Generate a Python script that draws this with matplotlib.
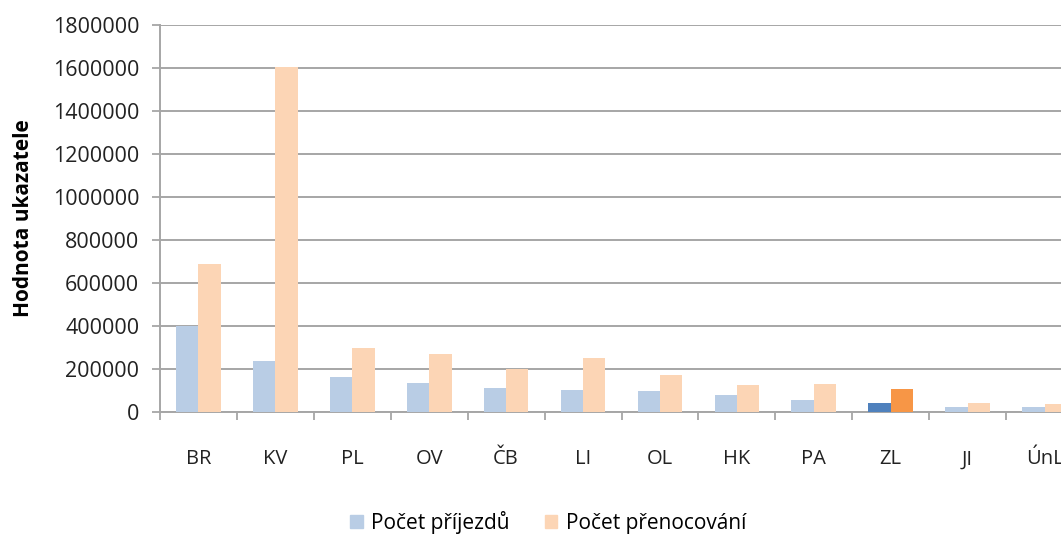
import matplotlib.pyplot as plt
import numpy as np
from matplotlib.patches import Patch

kraje = ['BR', 'KV', 'PL', 'OV', 'ČB', 'LI', 'OL', 'HK', 'PA', 'ZL', 'JI', 'ÚnL']
prijezdy = [398000, 237000, 161000, 136000, 113000, 102000, 96000, 77000, 54000, 43000, 25000, 24000]
prenocovani = [690000, 1603000, 296000, 268000, 198000, 250000, 173000, 125000, 131000, 108000, 43000, 35000]
zvyrazneny = 'ZL'

c_modra = '#B9CDE5'
c_oranz = '#FCD5B5'
c_modra_z = '#4F81BD'
c_oranz_z = '#F79646'

plt.rcParams['font.family'] = ['Open Sans', 'DejaVu Sans']

fig = plt.figure(figsize=(10.61, 5.35), dpi=100)
ax = fig.add_axes([160/1061, 1-412/535, 923/1061, 387/535])

x = np.arange(len(kraje))
w = 0.29
barvy1 = [c_modra_z if k == zvyrazneny else c_modra for k in kraje]
barvy2 = [c_oranz_z if k == zvyrazneny else c_oranz for k in kraje]
ax.bar(x - w/2, prijezdy, w, color=barvy1, zorder=3)
ax.bar(x + w/2, prenocovani, w, color=barvy2, zorder=3)

ax.set_xlim(-0.5, len(kraje) - 0.5)
ax.set_ylim(0, 1800000)
ax.set_yticks(np.arange(0, 1800001, 200000))
ax.set_yticklabels([str(v) for v in range(0, 1800001, 200000)], fontsize=15.5, color='#222222')
ax.yaxis.grid(True, color='#A6A6A6', linewidth=1.4, zorder=0)

ax.set_xticks(x)
ax.set_xticklabels(kraje, fontsize=14.5, color='#222222')
ax.set_xticks(np.arange(-0.5, len(kraje)), minor=True)
ax.tick_params(axis='x', which='major', length=0, pad=27)
ax.tick_params(axis='x', which='minor', length=6, width=1.3, color='#A6A6A6', direction='out')
ax.tick_params(axis='y', length=6, width=1.3, color='#A6A6A6', pad=9)

for s in ['top', 'right']:
    ax.spines[s].set_visible(False)
for s in ['left', 'bottom']:
    ax.spines[s].set_color('#A6A6A6')
    ax.spines[s].set_linewidth(1.4)

ax.set_ylabel('Hodnota ukazatele', fontsize=15, fontweight='bold')
ax.yaxis.set_label_coords(-126/923, 0.5)

handles = [Patch(color=c_modra, label='Počet příjezdů'),
           Patch(color=c_oranz, label='Počet přenocování')]
fig.legend(handles=handles, loc='center', bbox_to_anchor=(548/1061, 1-522/535), ncol=2,
           frameon=False, fontsize=15, handlelength=0.6, handleheight=0.6,
           handletextpad=0.4, columnspacing=1.7)

fig.savefig('out.png', dpi=100)
